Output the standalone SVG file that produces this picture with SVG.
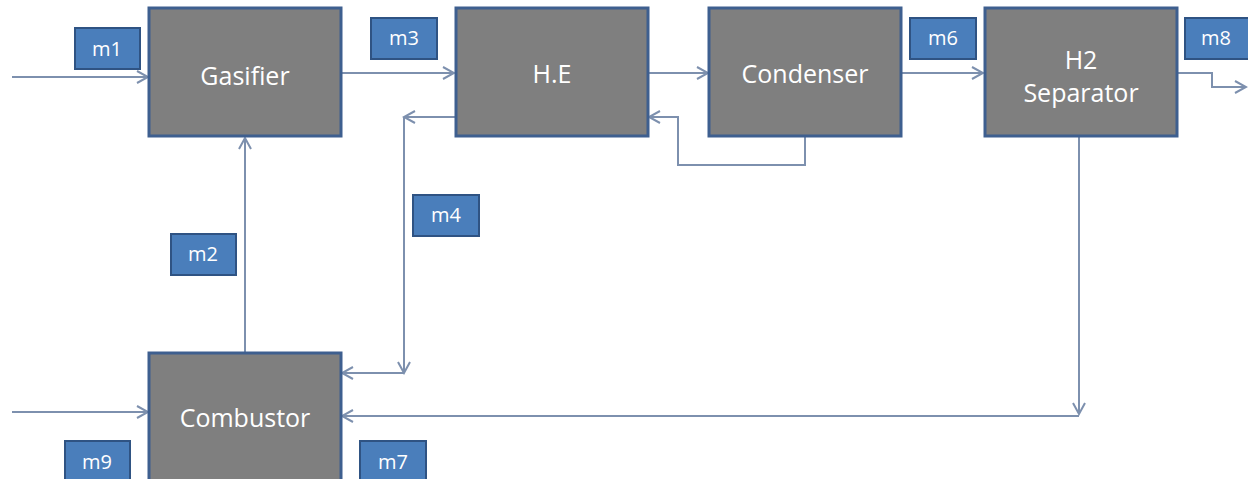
<svg xmlns="http://www.w3.org/2000/svg" width="1248" height="479" viewBox="0 0 1248 479">
<style>
.node{fill:#7f7f7f;stroke:#3e5f8f;stroke-width:3}
.lab{fill:#4a7ebb;stroke:#2f5383;stroke-width:2}
.nt{font-family:"Open Sans",Lato,sans-serif;font-size:25px;fill:#ffffff;text-anchor:middle}
.lt{font-family:"Open Sans",Lato,sans-serif;font-size:20px;fill:#ffffff;text-anchor:middle}
.c{fill:none;stroke:#7d90ae;stroke-width:2}
</style>
<defs>
<marker id="a" markerWidth="14" markerHeight="14" refX="12" refY="7" orient="auto" markerUnits="userSpaceOnUse">
<path d="M1,1 L12,7 L1,13" fill="none" stroke="#7d90ae" stroke-width="2"/>
</marker>
</defs>
<rect width="1248" height="479" fill="#ffffff"/>
<g id="connectors">
<path class="c" d="M12,77 H148" marker-end="url(#a)"/>
<path class="c" d="M342,73 H454" marker-end="url(#a)"/>
<path class="c" d="M648,73 H708" marker-end="url(#a)"/>
<path class="c" d="M900,73 H983" marker-end="url(#a)"/>
<path class="c" d="M1177,73 H1212 V87 H1246" marker-end="url(#a)"/>
<path class="c" d="M455,117 H404" marker-end="url(#a)"/>
<path class="c" d="M404,117 V373" marker-end="url(#a)"/>
<path class="c" d="M404,373 H342" marker-end="url(#a)"/>
<path class="c" d="M805,137 V165 H678 V117 H649" marker-end="url(#a)"/>
<path class="c" d="M245,352 V138" marker-end="url(#a)"/>
<path class="c" d="M12,412 H148" marker-end="url(#a)"/>
<path class="c" d="M1079,137 V414" marker-end="url(#a)"/>
<path class="c" d="M1079,416 H342" marker-end="url(#a)"/>
</g>
<g id="gasifier"><rect class="node" x="149" y="8" width="192" height="128"/><text class="nt" x="245" y="85">Gasifier</text></g>
<g id="he"><rect class="node" x="456" y="8" width="192" height="128"/><text class="nt" x="552" y="83">H.E</text></g>
<g id="condenser"><rect class="node" x="709" y="8" width="192" height="128"/><text class="nt" x="805" y="83">Condenser</text></g>
<g id="h2sep"><rect class="node" x="985" y="8" width="192" height="128"/><text class="nt" x="1081" y="69">H2</text><text class="nt" x="1081" y="102">Separator</text></g>
<g id="combustor"><rect class="node" x="149" y="353" width="192" height="140"/><text class="nt" x="245" y="427">Combustor</text></g>
<g id="m1"><rect class="lab" x="75" y="28" width="65" height="41"/><text class="lt" x="107" y="56">m1</text></g>
<g id="m3"><rect class="lab" x="371" y="18" width="66" height="41"/><text class="lt" x="404" y="45">m3</text></g>
<g id="m6"><rect class="lab" x="910" y="18" width="66" height="41"/><text class="lt" x="943" y="45">m6</text></g>
<g id="m8"><rect class="lab" x="1185" y="18" width="66" height="41"/><text class="lt" x="1216" y="45">m8</text></g>
<g id="m2"><rect class="lab" x="171" y="234" width="65" height="41"/><text class="lt" x="203" y="261">m2</text></g>
<g id="m4"><rect class="lab" x="413" y="195" width="66" height="41"/><text class="lt" x="446" y="222">m4</text></g>
<g id="m9"><rect class="lab" x="65" y="441" width="65" height="45"/><text class="lt" x="97" y="469">m9</text></g>
<g id="m7"><rect class="lab" x="360" y="441" width="66" height="45"/><text class="lt" x="393" y="469">m7</text></g>
</svg>
